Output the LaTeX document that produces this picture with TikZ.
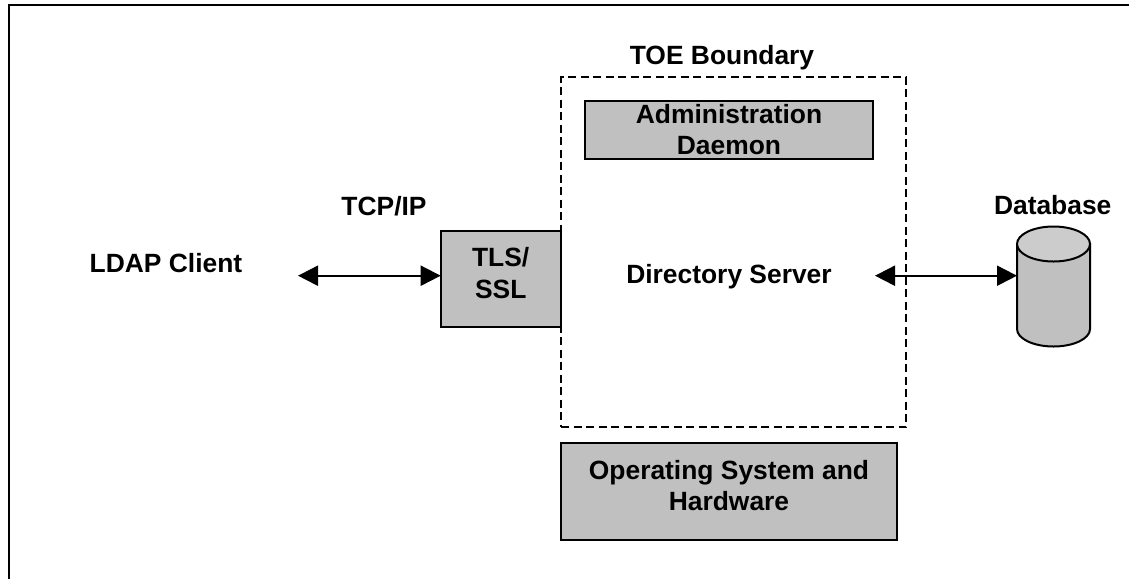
\documentclass[tikz,border=0pt]{standalone}
\usepackage{fontspec}
\setmainfont{Liberation Sans}
\usetikzlibrary{
    arrows.meta
}
\definecolor{boxgray}{HTML}{C0C0C0}
\definecolor{lidgray}{HTML}{CCCCCC}
\tikzset{
    lbl/.style={font=\fontsize{26.4}{31.7}\selectfont\bfseries, align=center, inner sep=0pt, anchor=base},
    graybox/.style={draw, line width=2pt, fill=boxgray, inner sep=0pt, outer sep=0pt, align=center,
        font=\fontsize{26.4}{31.7}\selectfont\bfseries},
    twoway/.style={line width=2pt, {Triangle[length=20pt,width=20pt]}-{Triangle[length=20pt,width=20pt]}}
}
\begin{document}
\begin{tikzpicture}[x=1pt, y=-1pt]
    \useasboundingbox (0, 0) rectangle (1129, 579);
    \draw[line width=2.2pt] (9, 579) -- (9, 5) -- (1129, 5);
    \node[graybox, minimum width=120pt, minimum height=96pt, text depth=12pt] (tls) at (500.7, 278.7) {TLS/\\SSL};
    \node[draw, line width=1.5pt, dash pattern=on 8pt off 4.5pt, minimum width=345pt, minimum height=350pt, outer sep=0pt] (toebox) at (733.5, 252) {};
    \node[graybox, minimum width=288pt, minimum height=58pt] (adm) at (729, 129.7) {Administration\\Daemon};
    \node[graybox, minimum width=336pt, minimum height=97pt, text depth=12pt] (os) at (729, 491.5) {Operating System and\\Hardware};
    % database drum
    \draw[line width=2pt, fill=boxgray] (1017, 244) -- (1017, 329) arc[start angle=180, end angle=360, x radius=36.5pt, y radius=17.5pt] -- (1090, 244) -- cycle;
    \draw[line width=2pt, fill=lidgray] (1053.5, 244) ellipse[x radius=36.5pt, y radius=17.5pt];
    \node[lbl] (toe) at (722, 64) {TOE Boundary};
    \node[lbl] (tcp) at (384, 215.7) {TCP/IP};
    \node[lbl] (ldap) at (166, 272.7) {LDAP Client};
    \node[lbl] (dir) at (729, 283) {Directory Server};
    \node[lbl] (dbl) at (1052.7, 214) {Database};
    \coordinate (cl) at (298, 275.7);
    \coordinate (sv) at (875, 275.7);
    \coordinate (dbw) at (1017, 275.7);
    \draw
    (cl) edge[twoway] (tls.west |- cl)
    (sv) edge[twoway] (dbw);
\end{tikzpicture}
\end{document}
